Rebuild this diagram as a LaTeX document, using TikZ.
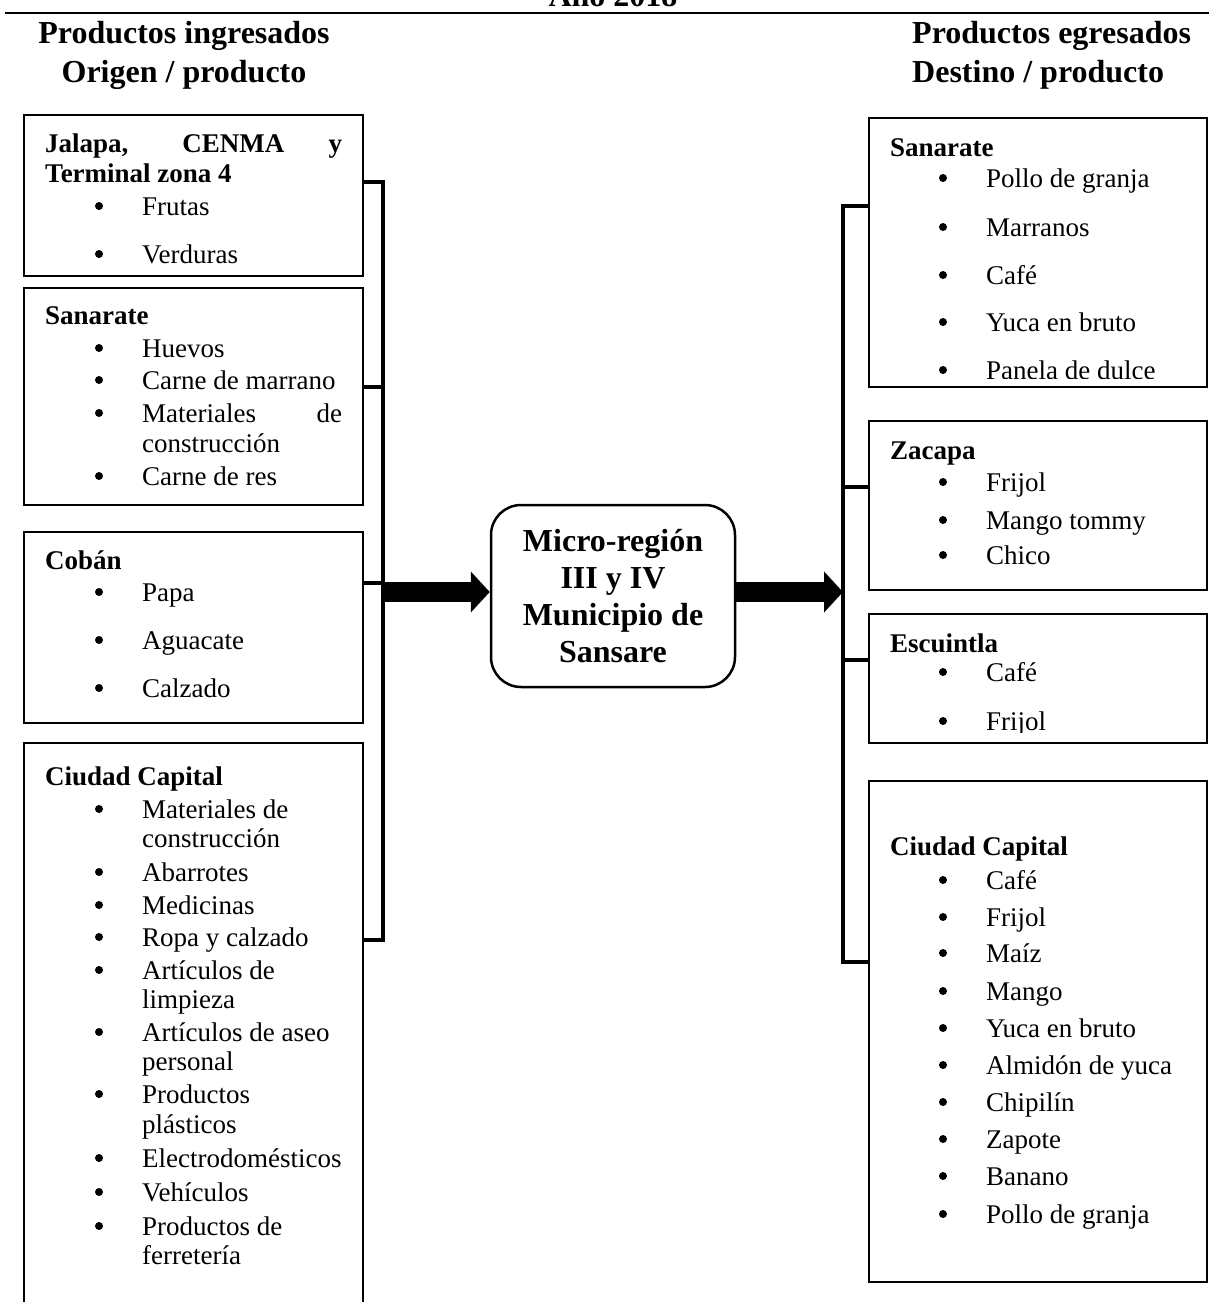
\documentclass[tikz,border=0pt]{standalone}
\usepackage{fontspec}
\setmainfont{Liberation Serif}
\usetikzlibrary{arrows.meta}
\tikzset{
  boxn/.style={draw, line width=2.5pt, rectangle, inner sep=0pt, outer sep=0pt},
  brk/.style={line width=3.4pt},
  fat/.style={line width=20pt, -{Triangle[length=19pt,width=40pt]}},
  itm/.style={anchor=base west, inner sep=0pt, font=\fontsize{27}{32}\selectfont},
  hdr/.style={anchor=base west, inner sep=0pt, font=\fontsize{27}{32}\selectfont\bfseries},
  ttl/.style={anchor=base, inner sep=0pt, font=\fontsize{32}{38}\selectfont\bfseries},
}
\newcommand\mkbox[5]{\node[boxn, minimum width={(#4-#2)*1pt}, minimum height={(#5-#3)*1pt}] (#1) at ({(#2+#4)/2},{(#3+#5)/2}) {};}
\newcommand\bitem[5]{\fill (#2,#4) circle (4pt); \node[itm] (#1) at (#3,#4+9) {#5};}
\newcommand\citem[4]{\node[itm] (#1) at (#2,#3+9) {#4};}
\begin{document}
\begin{tikzpicture}[x=1pt,y=-1pt]
\useasboundingbox (0,0) rectangle (1209,1302);
% title and rule
\node[ttl] (anio) at (613,6) {Año 2018};
\coordinate (rulea) at (5,13);
\coordinate (ruleb) at (1209,13);
\draw[line width=2.8pt] (rulea) -- (ruleb);
\node[ttl] (hl1) at (184,43) {Productos ingresados};
\node[ttl] (hl2) at (184,82) {Origen / producto};
\node[ttl, anchor=base west] (hr1) at (912,43) {Productos egresados};
\node[ttl, anchor=base west] (hr2) at (912,82) {Destino / producto};

% left boxes
\mkbox{L1}{24}{115}{363}{276}
\mkbox{L2}{24}{288}{363}{505}
\mkbox{L3}{24}{532}{363}{723}
\mkbox{L4}{24}{743}{363}{1330}
% right boxes
\mkbox{R1}{869}{118}{1207}{387}
\mkbox{R2}{869}{421}{1207}{590}
\mkbox{R3}{869}{614}{1207}{743}
\mkbox{R4}{869}{781}{1207}{1282}

% center
\node[draw, line width=2.5pt, rounded corners=30pt, minimum width=244pt, minimum height=182pt,
      align=center, inner sep=0pt, font=\fontsize{32}{37}\selectfont\bfseries] (C) at (613,596)
      {Micro-región\\III y IV\\Municipio de\\Sansare};

% left bracket
\coordinate (lb1) at (383,182);
\coordinate (lb2) at (383,387);
\coordinate (lb3) at (383,583);
\coordinate (lb4) at (383,940);
\draw[brk] (L1.east |- lb1) -- (lb1) -- (lb4) -- (L4.east |- lb4);
\draw[brk] (L2.east |- lb2) -- (lb2);
\draw[brk] (L3.east |- lb3) -- (lb3);
% right bracket
\coordinate (rb1) at (843,206);
\coordinate (rb2) at (843,487);
\coordinate (rb3) at (843,660);
\coordinate (rb4) at (843,962);
\draw[brk] (R1.west |- rb1) -- (rb1) -- (rb4) -- (R4.west |- rb4);
\draw[brk] (R2.west |- rb2) -- (rb2);
\draw[brk] (R3.west |- rb3) -- (rb3);

% fat arrows
\coordinate (la) at (383,592);
\coordinate (ra) at (843,592);
\draw[fat] (la) -- (la -| C.west);
\draw[fat] (C.east |- ra) -- (ra);

% left box 1
\node[hdr] (h1) at (45,152) {\makebox[297pt][s]{Jalapa, CENMA y}};
\node[hdr] (h1b) at (45,182) {Terminal zona 4};
\bitem{a1}{99}{142}{206}{Frutas}
\bitem{a2}{99}{142}{254}{Verduras}
% left box 2
\node[hdr] (h2) at (45,324) {Sanarate};
\bitem{b1}{99}{142}{348}{Huevos}
\bitem{b2}{99}{142}{380}{Carne de marrano}
\bitem{b3}{99}{142}{413}{\makebox[200pt][s]{Materiales de}}
\citem{b3b}{142}{443}{construcción}
\bitem{b4}{99}{142}{476}{Carne de res}
% left box 3
\node[hdr] (h3) at (45,569) {Cobán};
\bitem{c1}{99}{142}{592}{Papa}
\bitem{c2}{99}{142}{640}{Aguacate}
\bitem{c3}{99}{142}{688}{Calzado}
% left box 4
\node[hdr] (h4) at (45,785) {Ciudad Capital};
\bitem{d1}{99}{142}{809}{Materiales de}
\citem{d1b}{142}{838}{construcción}
\bitem{d2}{99}{142}{872}{Abarrotes}
\bitem{d3}{99}{142}{905}{Medicinas}
\bitem{d4}{99}{142}{937}{Ropa y calzado}
\bitem{d5}{99}{142}{970}{Artículos de}
\citem{d5b}{142}{999}{limpieza}
\bitem{d6}{99}{142}{1032}{Artículos de aseo}
\citem{d6b}{142}{1061}{personal}
\bitem{d7}{99}{142}{1094}{Productos}
\citem{d7b}{142}{1124}{plásticos}
\bitem{d8}{99}{142}{1158}{Electrodomésticos}
\bitem{d9}{99}{142}{1192}{Vehículos}
\bitem{d10}{99}{142}{1226}{Productos de}
\citem{d10b}{142}{1255}{ferretería}

% right box 1
\begin{scope}
\clip (869,118) rectangle (1207,378);
\node[hdr] (g1) at (890,156) {Sanarate};
\bitem{e1}{943}{986}{178}{Pollo de granja}
\bitem{e2}{943}{986}{227}{Marranos}
\bitem{e3}{943}{986}{275}{Café}
\bitem{e4}{943}{986}{322}{Yuca en bruto}
\bitem{e5}{943}{986}{370}{Panela de dulce}
\end{scope}
% right box 2
\node[hdr] (g2) at (890,459) {Zacapa};
\bitem{f1}{943}{986}{482}{Frijol}
\bitem{f2}{943}{986}{520}{Mango tommy}
\bitem{f3}{943}{986}{555}{Chico}
% right box 3
\begin{scope}
\clip (869,614) rectangle (1207,732);
\node[hdr] (g3) at (890,652) {Escuintla};
\bitem{k1}{943}{986}{672}{Café}
\bitem{k2}{943}{986}{721}{Frijol}
\end{scope}
% right box 4
\node[hdr] (g4) at (890,855) {Ciudad Capital};
\bitem{m1}{943}{986}{880}{Café}
\bitem{m2}{943}{986}{917}{Frijol}
\bitem{m3}{943}{986}{953}{Maíz}
\bitem{m4}{943}{986}{991}{Mango}
\bitem{m5}{943}{986}{1028}{Yuca en bruto}
\bitem{m6}{943}{986}{1065}{Almidón de yuca}
\bitem{m7}{943}{986}{1102}{Chipilín}
\bitem{m8}{943}{986}{1139}{Zapote}
\bitem{m9}{943}{986}{1176}{Banano}
\bitem{m10}{943}{986}{1214}{Pollo de granja}
\end{tikzpicture}
\end{document}
